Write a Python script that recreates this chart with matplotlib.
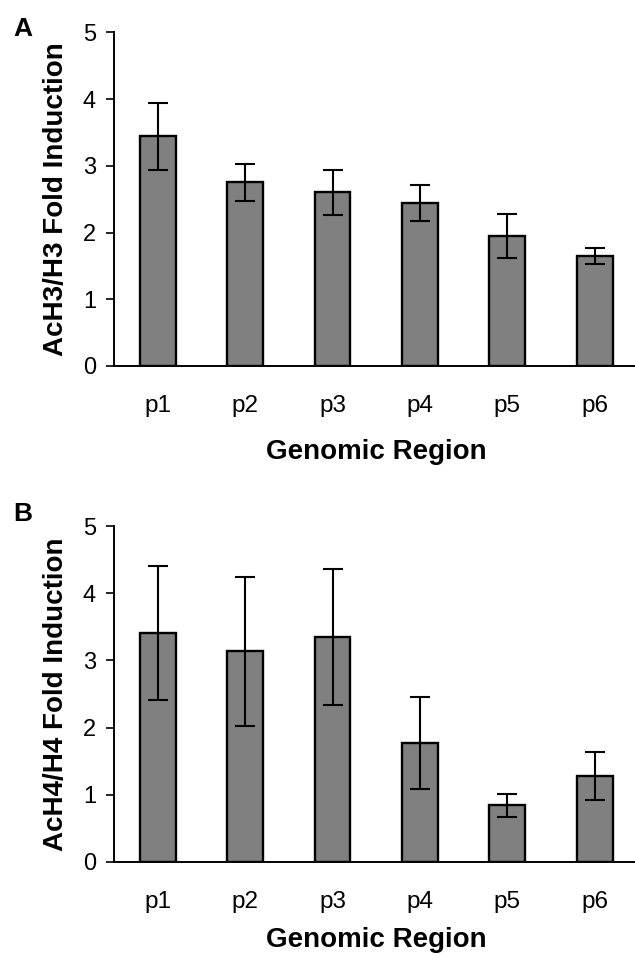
import matplotlib
matplotlib.use('Agg')
import matplotlib.pyplot as plt
import numpy as np

plt.rcParams['font.family'] = ['Liberation Sans', 'DejaVu Sans']

# Data
regions = ['p1', 'p2', 'p3', 'p4', 'p5', 'p6']
ach3 = [3.44, 2.75, 2.60, 2.44, 1.95, 1.65]
ach3_err = [0.50, 0.28, 0.34, 0.27, 0.33, 0.12]
ach4 = [3.41, 3.14, 3.35, 1.77, 0.84, 1.28]
ach4_err = [1.00, 1.11, 1.02, 0.68, 0.17, 0.36]

fig = plt.figure(figsize=(6.35, 9.59), dpi=100)
W, H = 635, 959

def panel(y_top, y_zero, vals, errs, ylabel, letter, letter_y, xpad):
    left = 114 / W
    width = 6 * 87.4 / W
    ax = fig.add_axes([left, 1 - y_zero / H, width, (y_zero - y_top) / H])
    x = np.arange(len(regions))
    ax.bar(x, vals, width=0.41, color='#808080', edgecolor='black', linewidth=1.7, zorder=2)
    ax.errorbar(x, vals, yerr=errs, fmt='none', ecolor='black', elinewidth=1.5,
                capsize=7, capthick=1.5, zorder=3)
    ax.set_xlim(-0.5, 5.5)
    ax.set_ylim(0, 5)
    ax.set_yticks(range(6))
    ax.set_xticks(x)
    ax.set_xticklabels(regions)
    ax.spines['top'].set_visible(False)
    ax.spines['right'].set_visible(False)
    ax.spines['left'].set_linewidth(1.4)
    ax.spines['bottom'].set_linewidth(1.4)
    ax.tick_params(axis='y', direction='out', length=6, width=1.2, labelsize=17, pad=7)
    ax.tick_params(axis='x', length=0, labelsize=17.5, pad=21)
    ax.set_xlabel('Genomic Region', fontsize=20, fontweight='bold', labelpad=xpad)
    ax.set_ylabel(ylabel, fontsize=20, fontweight='bold', labelpad=10)
    fig.text(13 / W, 1 - letter_y / H, letter, fontsize=19, fontweight='bold', va='top')
    return ax

panel(32.3, 366, ach3, ach3_err, 'AcH3/H3 Fold Induction', 'A', 17, 16)
panel(526.3, 861.7, ach4, ach4_err, 'AcH4/H4 Fold Induction', 'B', 502, 10)

fig.savefig('out.png', dpi=100)
